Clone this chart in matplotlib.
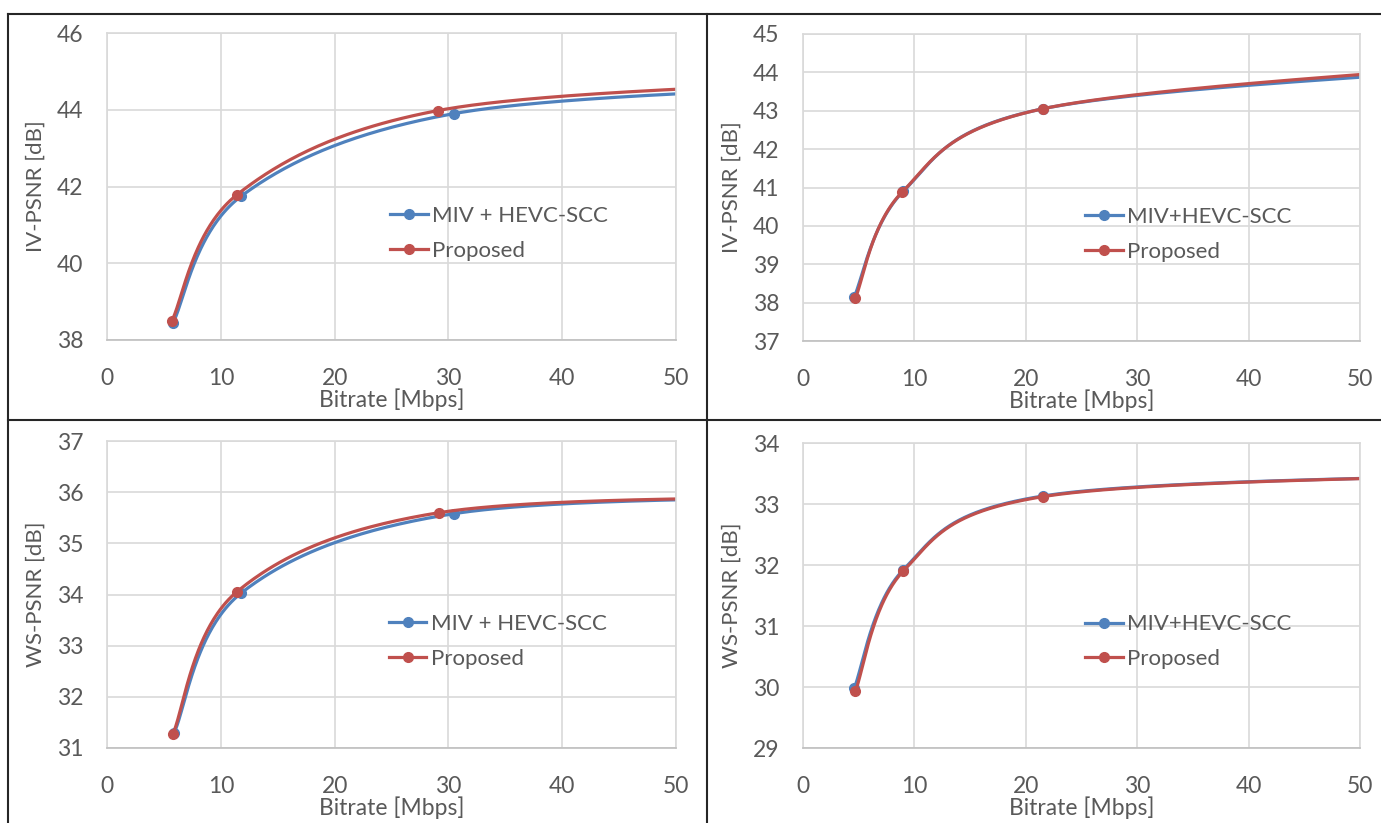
import matplotlib.pyplot as plt
import numpy as np
from matplotlib.lines import Line2D

# ---- data (4th rate point lies past the 50 Mbps edge) ----
tl_miv_x = [5.8, 11.8, 30.5, 66.0]
tl_miv_y = [38.45, 41.75, 43.90, 44.64]
tl_prop_x = [5.7, 11.4, 29.1, 64.0]
tl_prop_y = [38.50, 41.78, 43.98, 44.74]

tr_miv_x = [4.6, 9.0, 21.5, 62.0]
tr_miv_y = [38.15, 40.90, 43.05, 44.12]
tr_prop_x = [4.7, 8.9, 21.5, 62.0]
tr_prop_y = [38.12, 40.88, 43.05, 44.22]

bl_miv_x = [5.9, 11.8, 30.5, 66.0]
bl_miv_y = [31.30, 34.03, 35.58, 35.92]
bl_prop_x = [5.8, 11.4, 29.2, 64.0]
bl_prop_y = [31.28, 34.05, 35.60, 35.92]

br_miv_x = [4.6, 9.0, 21.5, 62.0]
br_miv_y = [29.98, 31.92, 33.13, 33.48]
br_prop_x = [4.7, 9.0, 21.5, 62.0]
br_prop_y = [29.93, 31.90, 33.12, 33.48]

FIG_W, FIG_H = 1381, 823
BLUE = "#4F81BD"
RED = "#C0504D"
GREY_TXT = "#595959"

plt.rcParams["font.family"] = ["Lato", "DejaVu Sans"]


def excel_smooth(xs, ys, n=80):
    # Bezier segments like Excel's "smoothed line"
    p = np.column_stack([xs, ys]).astype(float)
    p = np.vstack([p[0], p, p[-1]])
    out = []
    for i in range(1, len(p) - 2):
        p0, p3 = p[i], p[i + 1]
        p1 = p[i] + (p[i + 1] - p[i - 1]) / 6
        p2 = p[i + 1] - (p[i + 2] - p[i]) / 6
        t = np.linspace(0, 1, n)[:, None]
        seg = (1 - t) ** 3 * p0 + 3 * (1 - t) ** 2 * t * p1 + 3 * (1 - t) * t ** 2 * p2 + t ** 3 * p3
        out.append(seg)
    out = np.vstack(out)
    return out[:, 0], out[:, 1]


def make_ax(box):
    l, t, r, b = box
    return fig.add_axes([l / FIG_W, 1 - b / FIG_H, (r - l) / FIG_W, (b - t) / FIG_H])


def draw_panel(box, miv, prop, ylim, ystep, ylabel, miv_label, leg_anchor):
    ax = make_ax(box)
    for (xs, ys), col, lab in [(miv, BLUE, miv_label), (prop, RED, "Proposed")]:
        sx, sy = excel_smooth(xs, ys)
        ax.plot(sx, sy, color=col, lw=2.3, solid_capstyle="round")
        ax.plot(xs, ys, "o", color=col, ms=7)
        ax.plot([], [], color=col, lw=2.3, marker="o", ms=7, label=lab)

    ax.set_xlim(0, 50)
    ax.set_ylim(*ylim)
    ax.set_xticks(np.arange(0, 51, 10))
    ax.set_yticks(np.arange(ylim[0], ylim[1] + 0.1, ystep))
    ax.grid(True, color="#D9D9D9", lw=1.2)
    ax.set_axisbelow(True)
    for s in ["top", "right", "left"]:
        ax.spines[s].set_color("#D9D9D9")
        ax.spines[s].set_linewidth(1.2)
    ax.spines["bottom"].set_color("#BFBFBF")
    ax.spines["bottom"].set_linewidth(1.2)
    ax.tick_params(length=0, labelsize=16.5, colors=GREY_TXT)
    ax.tick_params(axis="y", pad=17)
    ax.tick_params(axis="x", pad=20)
    ax.set_xlabel("Bitrate [Mbps]", fontsize=16.5, color=GREY_TXT, labelpad=0)
    ax.set_ylabel(ylabel, fontsize=16, color=GREY_TXT, labelpad=8)
    ax.legend(loc="center left", bbox_to_anchor=leg_anchor, frameon=False, fontsize=16,
              handlelength=1.7, handletextpad=0.2, labelspacing=0.65, labelcolor=GREY_TXT,
              borderaxespad=0, borderpad=0)
    return ax


fig = plt.figure(figsize=(FIG_W / 100, FIG_H / 100), dpi=100)

draw_panel((107, 33, 676, 340), (tl_miv_x, tl_miv_y), (tl_prop_x, tl_prop_y),
           (38, 46), 2, "IV-PSNR [dB]", "MIV + HEVC-SCC", (0.497, 0.347))
draw_panel((803, 34, 1360, 341), (tr_miv_x, tr_miv_y), (tr_prop_x, tr_prop_y),
           (37, 45), 1, "IV-PSNR [dB]", "MIV+HEVC-SCC", (0.506, 0.347))
draw_panel((107, 441, 676, 748), (bl_miv_x, bl_miv_y), (bl_prop_x, bl_prop_y),
           (31, 37), 1, "WS-PSNR [dB]", "MIV + HEVC-SCC", (0.495, 0.347))
draw_panel((803, 443, 1360, 748), (br_miv_x, br_miv_y), (br_prop_x, br_prop_y),
           (29, 34), 1, "WS-PSNR [dB]", "MIV+HEVC-SCC", (0.506, 0.349))


# black frame between the four charts
def fline(x0, y0, x1, y1, lw=1.5):
    fig.add_artist(Line2D([x0 / FIG_W, x1 / FIG_W], [1 - y0 / FIG_H, 1 - y1 / FIG_H],
                          color="#262626", lw=lw))


fline(8, 14, FIG_W, 14)
fline(8, 14, 8, FIG_H)
fline(707, 14, 707, FIG_H)
fline(8, 420, FIG_W, 420)

fig.savefig("out.png", dpi=100)
